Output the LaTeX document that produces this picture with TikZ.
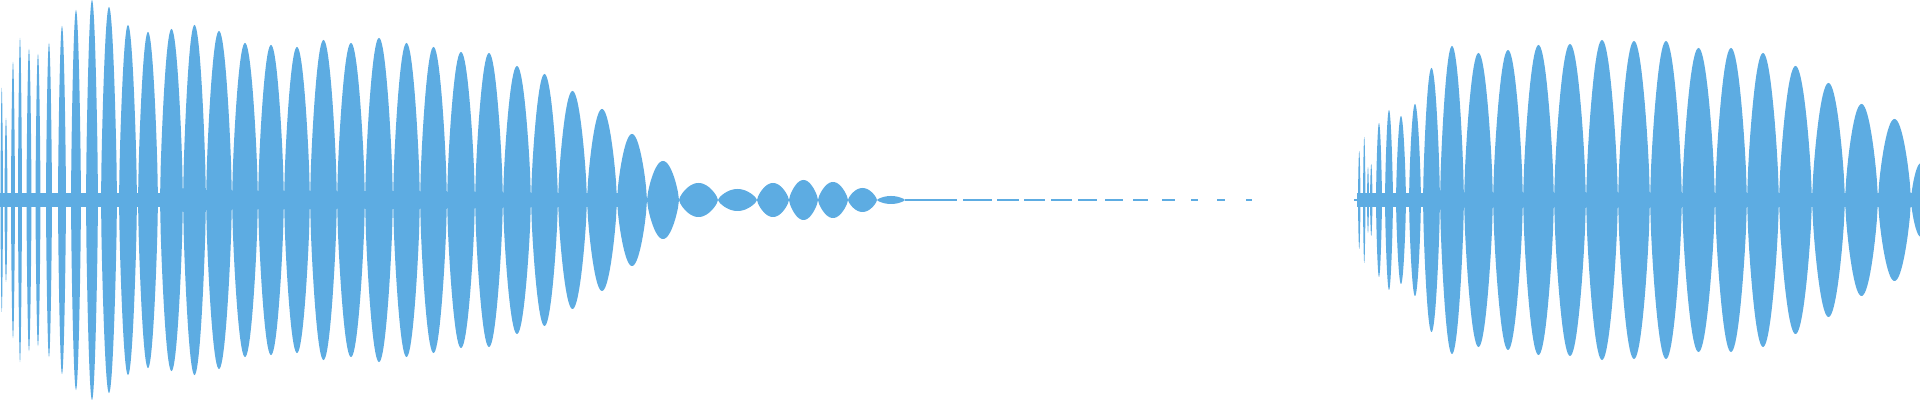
\documentclass[tikz,border=0pt]{standalone}
\definecolor{wavec}{RGB}{93,172,226}
\tikzset{wave/.style={fill=wavec,draw=none}, dashln/.style={draw=wavec,line width=0.013cm}}
\newcommand\lobe[3]{\fill[wave] plot[domain=#1:#2,samples=31] (\x,{200+#3*pow(abs(sin(180*(\x-#1)/(#2-#1))),0.7)}) -- plot[domain=#2:#1,samples=31] (\x,{200-#3*pow(abs(sin(180*(\x-#1)/(#2-#1))),0.7)}) -- cycle;}
\begin{document}
\begin{tikzpicture}[x=0.01cm,y=0.01cm]
\useasboundingbox (0,0) rectangle (1920,400);
\clip (0,0) rectangle (1920,400);
\fill[wave] (0,193) rectangle (625,207);
\fill[wave] (1357,193) rectangle (1920,207);
\foreach \a/\b/\c in {0.5/3/112,4.5/7.5/82,11/15/138,18/22/162,26.5/31.5/151,35.5/40.5/146,46/52/157,58/66/174,71/81/190,86/98/200,101/117/193,119/137/175,138/158/168,160/183/171,183/206/175,206/232/169,232/258/157,258/284/155,284/310/153,310/337/160,337/365/157,365/393/162,393/420/157,420/447/153,447/475/148,475/503/147,503/531/134,531/558/126,558/587/109,587/617/91,617/647/66,647/679/39,679/718/17,718/757/11,757/789/17,789/818/20,818/848/18,848/877/12,877/905/4,
1358/1360.5/49,1363/1365.5/63,1367/1369/33,1370/1372.5/36,1376/1382/77,1385/1393/90,1396/1406/84,1409/1421/96,1423/1440/132,1440/1464/154,1464/1493/147,1493/1523/150,1523/1554/155,1554/1586/156,1586/1618/160,1618/1650/159,1650/1682/159,1682/1715/152,1715/1747/152,1747/1779/147,1779/1812/134,1812/1845/117,1845/1878/96,1878/1911/81,1911/1931/37}
{\lobe{\a}{\b}{\c}}
\foreach \a/\b in {905/957,963/992,997/1019,1024/1045,1051/1072,1078/1097,1105/1123,1133/1148,1162/1175,1191/1198,1217/1225,1246/1252,1354/1360}
{\draw[dashln] (\a,200) -- (\b,200);}
\end{tikzpicture}
\end{document}
